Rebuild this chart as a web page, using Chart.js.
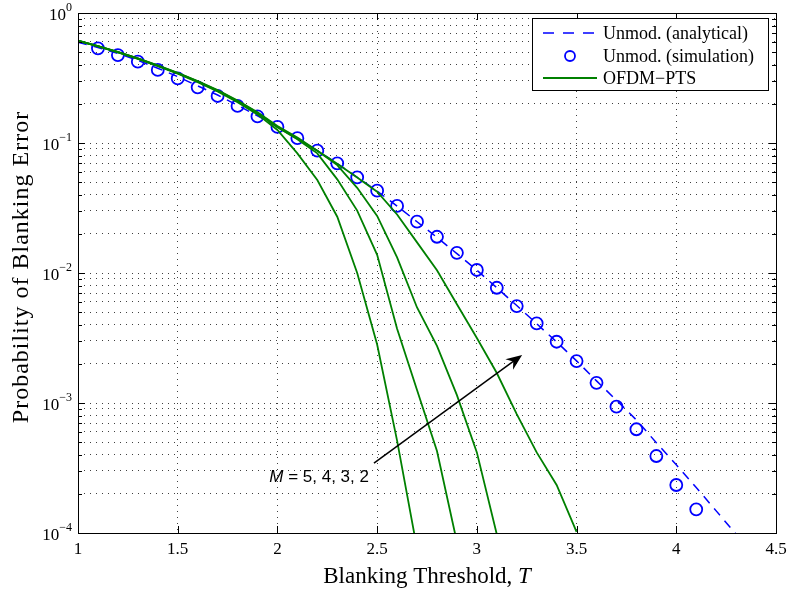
<!DOCTYPE html>
<html><head><meta charset="utf-8">
<script src="https://cdn.jsdelivr.net/npm/chart.js@4.4.1/dist/chart.umd.min.js"></script>
<style>html,body{margin:0;padding:0;background:#fff;} #c{display:block;}</style>
</head><body>
<canvas id="c" width="789" height="590"></canvas>
<script>
// ---------------- data ----------------
const thresholdsAnalytical = [1.0,1.1,1.2,1.3,1.4,1.5,1.6,1.7,1.8,1.9,2.0,2.1,2.2,2.3,2.4,2.5,2.6,2.7,2.8,2.9,3.0,3.1,3.2,3.3,3.4,3.5,3.6,3.7,3.8,3.9,4.0,4.1,4.2,4.3];
const unmodAnalytical = [0.596,0.543,0.488,0.432,0.376,0.324,0.275,0.234,0.195,0.162,0.133,0.109,0.0873,0.0695,0.0545,0.0427,0.0327,0.0248,0.0188,0.0141,0.0105,0.0077,0.00562,0.00407,0.00295,0.00211,0.00148,0.00105,0.00074,0.000495,0.000335,0.000224,0.000148,0.0000977];

const thresholdsSim = [1.1,1.2,1.3,1.4,1.5,1.6,1.7,1.8,1.9,2.0,2.1,2.2,2.3,2.4,2.5,2.6,2.7,2.8,2.9,3.0,3.1,3.2,3.3,3.4,3.5,3.6,3.7,3.8,3.9,4.0,4.1];
const unmodSimulation = [0.535,0.475,0.422,0.365,0.314,0.268,0.230,0.193,0.160,0.133,0.109,0.0873,0.0698,0.0544,0.043,0.0328,0.0248,0.019,0.0143,0.01055,0.0077,0.00557,0.0041,0.00296,0.0021,0.00143,0.000937,0.000628,0.000391,0.000234,0.000152];

const thresholdsM5 = [1.0,1.1,1.2,1.3,1.4,1.5,1.6,1.7,1.8,1.9,2.0,2.1,2.2,2.3,2.4,2.5,2.6,2.7];
const ptsM5 = [0.610,0.553,0.498,0.443,0.390,0.341,0.294,0.249,0.206,0.166,0.126,0.0832,0.0519,0.0271,0.0100,0.00282,0.000513,0.0000759];

const thresholdsM4 = [1.0,1.1,1.2,1.3,1.4,1.5,1.6,1.7,1.8,1.9,2.0,2.1,2.2,2.3,2.4,2.5,2.6,2.7,2.8,2.9];
const ptsM4 = [0.612,0.555,0.500,0.446,0.393,0.344,0.297,0.252,0.209,0.170,0.132,0.107,0.0832,0.0525,0.0302,0.0138,0.00372,0.00126,0.000427,0.0000851];

const thresholdsM3 = [1.0,1.1,1.2,1.3,1.4,1.5,1.6,1.7,1.8,1.9,2.0,2.1,2.2,2.3,2.4,2.5,2.6,2.7,2.8,2.9,3.0,3.1];
const ptsM3 = [0.612,0.556,0.501,0.447,0.394,0.345,0.298,0.253,0.210,0.171,0.133,0.108,0.0871,0.0676,0.0452,0.0275,0.0132,0.00543,0.00275,0.00115,0.000417,0.0000977];

const thresholdsM2 = [1.0,1.1,1.2,1.3,1.4,1.5,1.6,1.7,1.8,1.9,2.0,2.1,2.2,2.3,2.4,2.5,2.6,2.7,2.8,2.9,3.0,3.1,3.2,3.3,3.4,3.5];
const ptsM2 = [0.613,0.557,0.502,0.448,0.395,0.346,0.300,0.255,0.212,0.172,0.135,0.110,0.0871,0.0692,0.0543,0.0422,0.0282,0.0172,0.0105,0.00575,0.00316,0.0017,0.000822,0.000417,0.000234,0.000102];

const xTickLabels = ['1','1.5','2','2.5','3','3.5','4','4.5'];
const yTickExponents = [0,-1,-2,-3,-4];
const legendLabels = ['Unmod. (analytical)','Unmod. (simulation)','OFDM\u2212PTS'];
const xTitleText = 'Blanking Threshold, ';
const xTitleVar = 'T';
const yTitleText = 'Probability of Blanking Error';
const annotationVar = 'M';
const annotationText = ' = 5, 4, 3, 2';
const arrowTail = [2.484, 0.000345];
const arrowTip = [3.227, 0.00234];

// ---------------- chart ----------------
const BLUE = '#0000ff', GREEN = '#008000';
const SERIF = '"Liberation Serif", "Times New Roman", serif';
const SANS = '"Liberation Sans", Arial, sans-serif';
const pts = (xs, ys) => xs.map((x, i) => ({x, y: ys[i]}));

const greenStyle = {borderColor: GREEN, borderWidth: 1.8, pointRadius: 0, tension: 0, fill: false, order: 0};

const overlay = {
  id: 'overlay',
  afterDatasetsDraw(chart) {
    const {ctx, chartArea: a, scales: {x, y}} = chart;
    const tx = x.getPixelForValue(arrowTail[0]), ty = y.getPixelForValue(arrowTail[1]);
    const hx = x.getPixelForValue(arrowTip[0]), hy = y.getPixelForValue(arrowTip[1]);
    const dx = hx - tx, dy = hy - ty, L = Math.hypot(dx, dy);
    const ux = dx / L, uy = dy / L, nx = -uy, ny = ux;
    ctx.save();
    ctx.strokeStyle = '#000'; ctx.fillStyle = '#000'; ctx.lineWidth = 1.5;
    ctx.beginPath(); ctx.moveTo(tx, ty); ctx.lineTo(hx - ux * 8, hy - uy * 8); ctx.stroke();
    ctx.beginPath();
    ctx.moveTo(hx, hy);
    ctx.lineTo(hx - ux * 16 + nx * 6.5, hy - uy * 16 + ny * 6.5);
    ctx.lineTo(hx - ux * 11, hy - uy * 11);
    ctx.lineTo(hx - ux * 16 - nx * 6.5, hy - uy * 16 - ny * 6.5);
    ctx.closePath(); ctx.fill();
    ctx.textBaseline = 'alphabetic';
    ctx.font = '17px ' + SANS;
    const w2 = ctx.measureText(annotationText).width;
    ctx.font = 'italic 17px ' + SANS;
    const w1 = ctx.measureText(annotationVar).width;
    const right = tx - 5, base = ty + 19;
    ctx.textAlign = 'left';
    ctx.fillText(annotationVar, right - w2 - w1, base);
    ctx.font = '17px ' + SANS;
    ctx.fillText(annotationText, right - w2, base);
    ctx.restore();
  },
  afterDraw(chart) {
    const {ctx, chartArea: a, scales: {x, y}} = chart;
    ctx.save();
    ctx.strokeStyle = '#000'; ctx.lineWidth = 1;
    ctx.strokeRect(a.left + 0.5, a.top + 0.5, a.right - a.left, a.bottom - a.top);
    ctx.beginPath();
    x.ticks.forEach(t => {
      const px = Math.round(x.getPixelForValue(t.value)) + 0.5;
      ctx.moveTo(px, a.bottom); ctx.lineTo(px, a.bottom - 7);
      ctx.moveTo(px, a.top); ctx.lineTo(px, a.top + 7);
    });
    y.ticks.forEach(t => {
      const lg = Math.log10(t.value);
      const major = Math.abs(lg - Math.round(lg)) < 1e-9;
      const len = major ? 7 : 4;
      const py = Math.round(y.getPixelForValue(t.value)) + 0.5;
      ctx.moveTo(a.left, py); ctx.lineTo(a.left + len, py);
      ctx.moveTo(a.right, py); ctx.lineTo(a.right - len, py);
    });
    ctx.stroke();
    ctx.fillStyle = '#000';
    ctx.textBaseline = 'alphabetic';
    yTickExponents.forEach(e => {
      const py = y.getPixelForValue(Math.pow(10, e));
      const sup = e === 0 ? '0' : '\u2212' + Math.abs(e);
      ctx.font = '12px ' + SERIF;
      const sw = ctx.measureText(sup).width;
      ctx.font = '17px ' + SERIF;
      const bw = ctx.measureText('10').width;
      const right = a.left - 6;
      ctx.textAlign = 'left';
      ctx.fillText('10', right - sw - bw, py + 7);
      ctx.font = '12px ' + SERIF;
      ctx.fillText(sup, right - sw, py - 2);
    });
    ctx.font = '23px ' + SERIF;
    const xw1 = ctx.measureText(xTitleText).width;
    ctx.font = 'italic 23px ' + SERIF;
    const xw2 = ctx.measureText(xTitleVar).width;
    const xc = (a.left + a.right) / 2, xs = xc - (xw1 + xw2) / 2;
    ctx.textAlign = 'left';
    ctx.font = '23px ' + SERIF;
    ctx.fillText(xTitleText, xs, 583);
    ctx.font = 'italic 23px ' + SERIF;
    ctx.fillText(xTitleVar, xs + xw1, 583);
    ctx.save();
    ctx.translate(28, 267);
    ctx.rotate(-Math.PI / 2);
    ctx.textAlign = 'center';
    ctx.font = '24px ' + SERIF;
    try { ctx.letterSpacing = '1px'; } catch (err) {}
    ctx.fillText(yTitleText, 0, 0);
    ctx.restore();
    // legend
    const lx = 532, ly = 18, lw = 236, lh = 72;
    ctx.fillStyle = '#fff';
    ctx.fillRect(lx, ly, lw, lh);
    ctx.strokeStyle = '#000'; ctx.lineWidth = 1;
    ctx.strokeRect(lx + 0.5, ly + 0.5, lw, lh);
    const rows = [33, 56, 78];
    ctx.strokeStyle = BLUE; ctx.lineWidth = 1.5;
    ctx.setLineDash([11, 9]);
    ctx.beginPath(); ctx.moveTo(543, rows[0]); ctx.lineTo(597, rows[0]); ctx.stroke();
    ctx.setLineDash([]);
    ctx.lineWidth = 1.8;
    ctx.beginPath(); ctx.arc(570, rows[1], 5, 0, Math.PI * 2); ctx.stroke();
    ctx.strokeStyle = GREEN; ctx.lineWidth = 1.8;
    ctx.beginPath(); ctx.moveTo(543, rows[2]); ctx.lineTo(597, rows[2]); ctx.stroke();
    ctx.fillStyle = '#000';
    ctx.font = '18px ' + SERIF;
    ctx.textBaseline = 'middle';
    legendLabels.forEach((t, i) => ctx.fillText(t, 603, rows[i] + 1));
    ctx.restore();
  }
};

new Chart(document.getElementById('c'), {
  type: 'line',
  data: {
    datasets: [
      {label: legendLabels[0], data: pts(thresholdsAnalytical, unmodAnalytical), borderColor: BLUE, borderWidth: 1.5, borderDash: [9, 7], pointRadius: 0, tension: 0, fill: false, order: 2},
      {label: legendLabels[1], data: pts(thresholdsSim, unmodSimulation), showLine: false, pointStyle: 'circle', pointRadius: 6, pointBorderWidth: 1.8, pointBorderColor: BLUE, pointBackgroundColor: 'rgba(0,0,0,0)', borderColor: BLUE, order: 1},
      Object.assign({label: 'M=5', data: pts(thresholdsM5, ptsM5)}, greenStyle),
      Object.assign({label: 'M=4', data: pts(thresholdsM4, ptsM4)}, greenStyle),
      Object.assign({label: 'M=3', data: pts(thresholdsM3, ptsM3)}, greenStyle),
      Object.assign({label: 'M=2', data: pts(thresholdsM2, ptsM2)}, greenStyle)
    ]
  },
  options: {
    responsive: false,
    animation: false,
    devicePixelRatio: 1,
    layout: {padding: {top: 13, right: 13, left: 0, bottom: 0}},
    plugins: {legend: {display: false}, tooltip: {enabled: false}},
    scales: {
      x: {
        type: 'linear', min: 1, max: 4.5, offset: false,
        border: {display: false, dash: [1, 5]},
        grid: {color: 'rgba(0,0,0,0.75)', lineWidth: 1, drawTicks: false},
        ticks: {stepSize: 0.5, autoSkip: false, maxRotation: 0, padding: 6, color: '#000',
          font: {family: SERIF, size: 17},
          callback: (v, i) => xTickLabels[i]},
        afterFit: s => { s.height = 57; s.paddingLeft = 0; s.paddingRight = 0; }
      },
      y: {
        type: 'logarithmic', min: 0.0001, max: 1,
        border: {display: false, dash: [1, 5]},
        grid: {color: 'rgba(0,0,0,0.75)', lineWidth: 1, drawTicks: false},
        ticks: {display: false, autoSkip: false},
        afterBuildTicks: s => {
          const t = [];
          for (let e = -4; e < 0; e++) for (let m = 1; m <= 9; m++) t.push({value: m * Math.pow(10, e)});
          t.push({value: 1});
          s.ticks = t;
        },
        afterFit: s => { s.width = 78; s.paddingTop = 0; s.paddingBottom = 0; }
      }
    }
  },
  plugins: [overlay]
});
</script>
</body></html>
